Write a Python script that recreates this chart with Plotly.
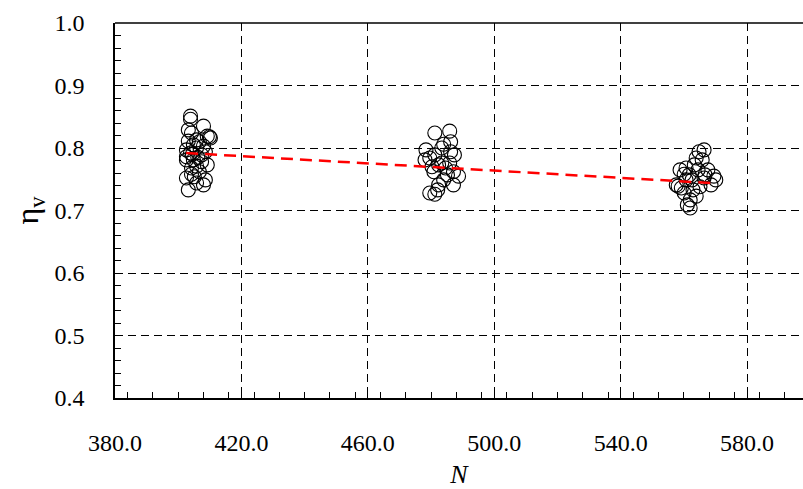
import plotly.graph_objects as go

# Cluster 1 (N ~ 403-410)
n1 = [403.9, 403.9, 404.2, 403.2, 402.6, 405.8, 408.0, 409.2, 409.9, 406.7, 407.4, 404.8,
      402.6, 404.2, 405.1, 402.6, 403.2, 405.8, 408.6, 406.7, 409.2, 408.6, 405.8, 403.9,
      402.6, 404.8, 407.4, 408.0, 404.2, 405.8, 408.0, 410.2, 403.2, 404.5, 406.2]
eta1 = [0.851, 0.846, 0.824, 0.811, 0.797, 0.800, 0.835, 0.819, 0.818, 0.810, 0.789, 0.781,
        0.786, 0.768, 0.754, 0.752, 0.733, 0.744, 0.749, 0.762, 0.773, 0.794, 0.813, 0.792,
        0.781, 0.805, 0.778, 0.741, 0.758, 0.771, 0.803, 0.816, 0.829, 0.790, 0.785]

# Cluster 2 (N ~ 477-488)
n2 = [481.2, 485.9, 486.2, 478.4, 479.6, 481.2, 483.4, 486.2, 485.9, 487.1, 488.7, 480.9,
      482.4, 482.1, 481.2, 479.6, 484.0, 484.6, 483.4, 482.4, 478.1, 487.1, 484.0, 487.4,
      480.3, 485.2]
eta2 = [0.824, 0.827, 0.810, 0.797, 0.784, 0.789, 0.800, 0.794, 0.776, 0.762, 0.755, 0.762,
        0.741, 0.733, 0.726, 0.728, 0.749, 0.768, 0.776, 0.773, 0.781, 0.741, 0.806, 0.789,
        0.770, 0.757]

# Cluster 3 (N ~ 557-571)
n3 = [566.4, 564.8, 563.9, 563.3, 560.7, 560.1, 558.2, 559.2, 560.1, 561.1, 562.0, 563.9,
      565.1, 566.4, 567.6, 569.5, 570.1, 568.6, 566.7, 562.6, 560.7, 558.8, 557.6, 561.7,
      564.5, 565.8, 562.9, 562.0]
eta3 = [0.797, 0.794, 0.784, 0.773, 0.768, 0.758, 0.739, 0.736, 0.728, 0.709, 0.704, 0.723,
        0.738, 0.752, 0.765, 0.755, 0.749, 0.741, 0.757, 0.749, 0.749, 0.765, 0.741, 0.757,
        0.765, 0.781, 0.733, 0.717]

trend_n = [402.5, 568.5]
trend_eta = [0.792, 0.744]

x_ticks = [380, 420, 460, 500, 540, 580]
y_ticks = [0.4, 0.5, 0.6, 0.7, 0.8, 0.9, 1.0]

fig = go.Figure()
fig.add_trace(go.Scatter(
    x=n1 + n2 + n3, y=eta1 + eta2 + eta3, mode="markers",
    marker=dict(symbol="circle-open", size=14, color="black", line=dict(width=1.1, color="black")),
    showlegend=False))
fig.add_trace(go.Scatter(
    x=trend_n, y=trend_eta, mode="lines",
    line=dict(color="#ff0000", width=2.5, dash="12px,7px"), showlegend=False))

serif = "Liberation Serif, Times New Roman, Times, serif"
fig.update_layout(
    width=803, height=489,
    margin=dict(l=115, r=0, t=23, b=91),
    paper_bgcolor="white", plot_bgcolor="white",
    font=dict(family=serif, size=24, color="black"),
    xaxis=dict(range=[380, 597.7], tickvals=x_ticks, tickformat=".1f", automargin=False,
               showline=True, linecolor="black", linewidth=1.5,
               ticks="inside", ticklen=7, tickcolor="black",
               minor=dict(dtick=8, ticks="inside", ticklen=6, tickcolor="black", showgrid=False),
               showgrid=True, gridcolor="black", griddash="8px,5px", gridwidth=0.8,
               zeroline=False, ticklabelstandoff=22,
               title=dict(text="<i>N</i>", font=dict(size=26, family=serif), standoff=10)),
    yaxis=dict(range=[0.4, 1.0], tickvals=y_ticks, tickformat=".1f", automargin=False,
               showline=True, linecolor="black", linewidth=1.5,
               ticks="inside", ticklen=7, tickcolor="black",
               minor=dict(dtick=0.02, ticks="inside", ticklen=6, tickcolor="black", showgrid=False),
               showgrid=True, gridcolor="black", griddash="8px,5px", gridwidth=0.8,
               zeroline=False, ticklabelstandoff=24,
               title=dict(text="η<sub>v</sub>", font=dict(size=32, family=serif), standoff=6)),
    shapes=[dict(type="line", xref="paper", yref="paper", x0=0, x1=1, y0=1, y1=1,
                 line=dict(color="black", width=1.5))],
)
fig.write_html("out.html", config={"displayModeBar": False},
               post_script="document.body.style.margin='0';document.body.style.overflow='hidden';")
